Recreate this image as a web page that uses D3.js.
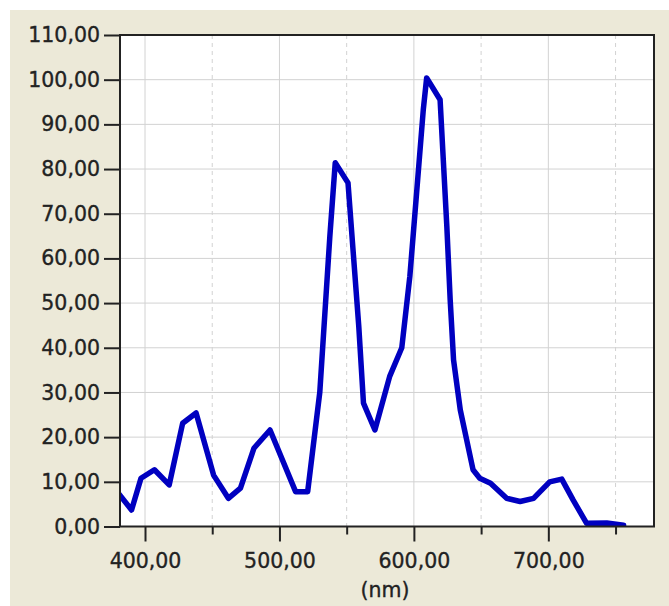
<!DOCTYPE html>
<html>
<head>
<meta charset="utf-8">
<script src="https://cdn.jsdelivr.net/npm/d3@7/dist/d3.min.js"></script>
<style>
  html, body { margin: 0; padding: 0; background: #fff; }
  svg { display: block; }
  .tick text, .title { font-family: "DejaVu Sans", Verdana, sans-serif; font-size: 20.5px; fill: #222; stroke: #222; stroke-width: 0.35px; }
</style>
</head>
<body>
<svg id="chart" width="669" height="606"></svg>
<script>
// spectrum
const wavelength = [380, 390, 397, 407, 418, 428, 438, 451, 462, 471, 481, 493, 512, 521, 530, 537.5, 541.5,
  551, 559, 562.5, 571, 582, 591, 597, 602, 607, 609.5, 619.5, 624.5, 627, 629.5, 634.5, 644,
  649, 657, 669, 679, 689, 701, 710, 718.5, 728.5, 743.5, 756]
const intensity = [7.5, 3.7, 10.8, 12.7, 9.3, 23.1, 25.4, 11.5, 6.3, 8.6, 17.5, 21.6, 7.8, 7.8, 30, 65, 81.4,
  76.9, 44.8, 27.6, 21.6, 33.6, 40, 56, 74.6, 93.3, 100.4, 95.5, 67.2, 50.7, 37.3, 26.1, 12.7,
  10.8, 9.7, 6.3, 5.6, 6.3, 10, 10.6, 5.9, 0.7, 0.8, 0.3]

const yTicks = [0, 10, 20, 30, 40, 50, 60, 70, 80, 90, 100, 110]
const xMajorTicks = [400, 500, 600, 700]
const xMinorTicks = [450, 550, 650, 750]
const xTitle = "(nm)"

const width = 669
const height = 606
const plot = {left: 120, right: 654, top: 35, bottom: 526.5}
const panelColor = "#ece9d8"
const lineColor = "#0000c0"
const gridColor = "#d2d2d2"

const locale = d3.formatLocale({decimal: ",", thousands: ".", grouping: [3], currency: ["", ""]})
const fmt = locale.format(".2f")

const x = d3.scaleLinear().domain([381.4, 778.6]).range([plot.left, plot.right])
const y = d3.scaleLinear().domain([0, 110]).range([plot.bottom, plot.top])

const svg = d3.select("#chart")

svg.append("rect")
  .attr("x", 10).attr("y", 10)
  .attr("width", width - 10).attr("height", height - 10)
  .attr("fill", panelColor)

svg.append("rect")
  .attr("x", plot.left).attr("y", plot.top)
  .attr("width", plot.right - plot.left).attr("height", plot.bottom - plot.top)
  .attr("fill", "#fff")

// grid
const grid = svg.append("g")
grid.selectAll(".hgrid")
  .data(yTicks)
  .join("line")
  .attr("class", "hgrid")
  .attr("x1", plot.left).attr("x2", plot.right)
  .attr("y1", d => y(d)).attr("y2", d => y(d))
  .attr("stroke", gridColor).attr("stroke-width", 1)

grid.selectAll(".vgrid")
  .data(xMajorTicks)
  .join("line")
  .attr("class", "vgrid")
  .attr("x1", d => x(d)).attr("x2", d => x(d))
  .attr("y1", plot.top).attr("y2", plot.bottom)
  .attr("stroke", gridColor).attr("stroke-width", 1)

grid.selectAll(".vgrid-minor")
  .data(xMinorTicks)
  .join("line")
  .attr("class", "vgrid-minor")
  .attr("x1", d => x(d)).attr("x2", d => x(d))
  .attr("y1", plot.top).attr("y2", plot.bottom)
  .attr("stroke", gridColor).attr("stroke-width", 1)
  .attr("stroke-dasharray", "4,4")

// line
svg.append("clipPath").attr("id", "clip")
  .append("rect")
  .attr("x", plot.left).attr("y", plot.top - 10)
  .attr("width", plot.right - plot.left).attr("height", plot.bottom - plot.top + 10)

const points = wavelength.map((w, i) => [w, intensity[i]])

svg.append("path")
  .datum(points)
  .attr("clip-path", "url(#clip)")
  .attr("fill", "none")
  .attr("stroke", lineColor)
  .attr("stroke-width", 5.5)
  .attr("stroke-linejoin", "round")
  .attr("stroke-linecap", "round")
  .attr("d", d3.line().x(d => x(d[0])).y(d => y(d[1])))

// axes
const yAxis = svg.append("g")
  .attr("transform", `translate(${plot.left},0)`)
  .call(d3.axisLeft(y).tickValues(yTicks).tickFormat(fmt).tickSize(16).tickPadding(4))
yAxis.select(".domain").remove()
yAxis.selectAll(".tick line").attr("stroke", "#222").attr("stroke-width", 2)

const xAxis = svg.append("g")
  .attr("transform", `translate(0,${plot.bottom})`)
  .call(d3.axisBottom(x).tickValues(xMajorTicks).tickFormat(fmt).tickSize(15).tickPadding(11.5))
xAxis.select(".domain").remove()
xAxis.selectAll(".tick line").attr("stroke", "#222").attr("stroke-width", 2)

const xMinor = svg.append("g")
  .attr("transform", `translate(0,${plot.bottom})`)
  .call(d3.axisBottom(x).tickValues(xMinorTicks).tickFormat("").tickSize(8))
xMinor.select(".domain").remove()
xMinor.selectAll(".tick line").attr("stroke", "#222").attr("stroke-width", 2)

// frame
svg.append("rect")
  .attr("x", plot.left).attr("y", plot.top)
  .attr("width", plot.right - plot.left).attr("height", plot.bottom - plot.top)
  .attr("fill", "none")
  .attr("stroke", "#222")
  .attr("stroke-width", 2)

svg.append("text")
  .attr("class", "title")
  .attr("x", (plot.left + plot.right) / 2 - 2)
  .attr("y", 597)
  .attr("text-anchor", "middle")
  .text(xTitle)
</script>
</body>
</html>
